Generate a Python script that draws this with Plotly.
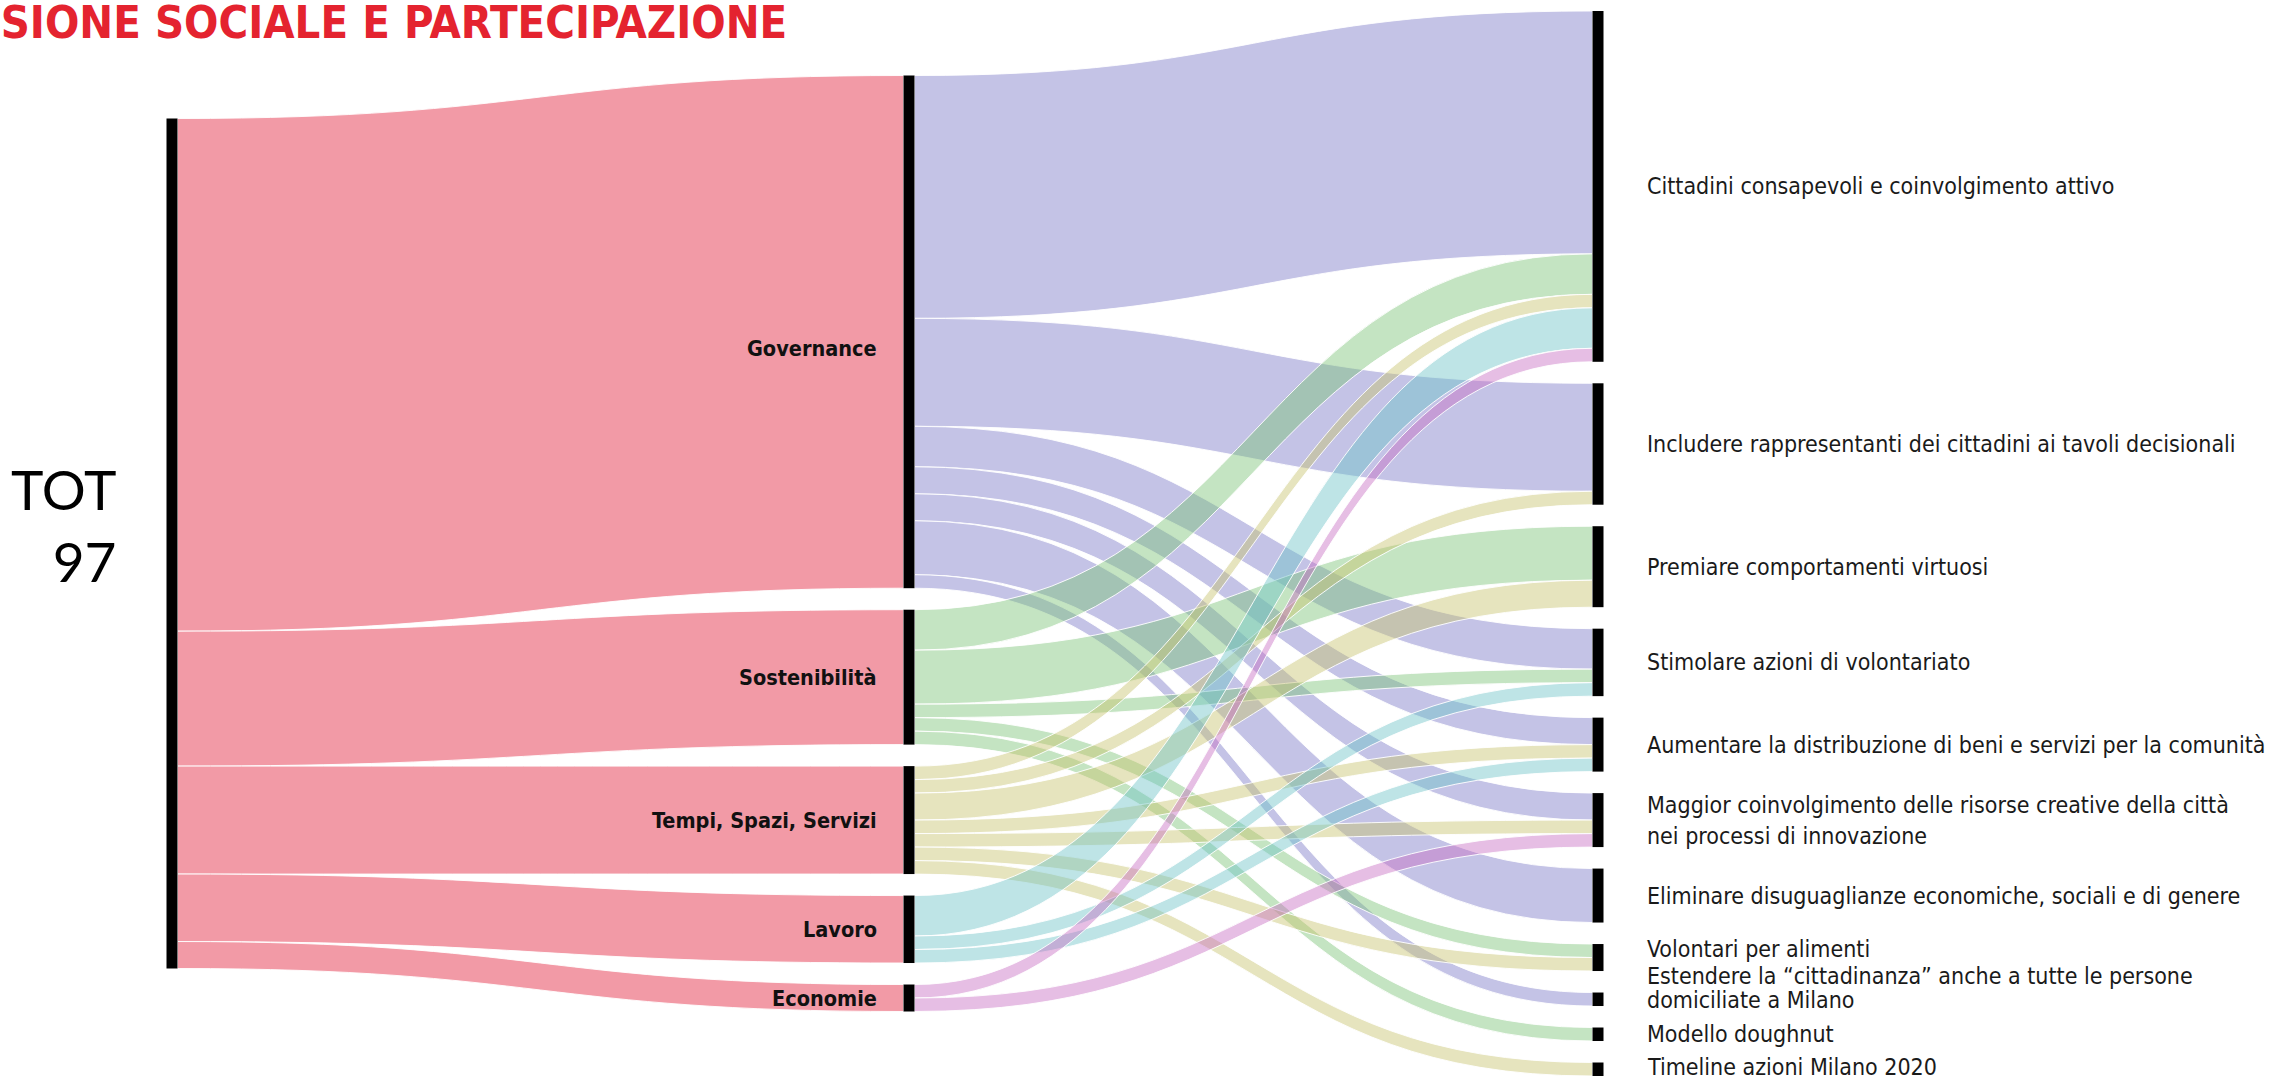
import plotly.graph_objects as go

# ---------------- data ----------------
title_text = "INCLUSIONE SOCIALE E PARTECIPAZIONE"
root_label = "TOT"
root_total_label = "97"

middle_labels = ["Governance", "Sostenibilità", "Tempi, Spazi, Servizi", "Lavoro", "Economie"]

target_labels = [
    "Cittadini consapevoli e coinvolgimento attivo",
    "Includere rappresentanti dei cittadini ai tavoli decisionali",
    "Premiare comportamenti virtuosi",
    "Stimolare azioni di volontariato",
    "Aumentare la distribuzione di beni e servizi per la comunità",
    "Maggior coinvolgimento delle risorse creative della città\nnei processi di innovazione",
    "Eliminare disuguaglianze economiche, sociali e di genere",
    "Volontari per alimenti",
    "Estendere la “cittadinanza” anche a tutte le persone\ndomiciliate a Milano",
    "Modello doughnut",
    "Timeline azioni Milano 2020",
]

# flows from each middle category to each target (same order as target_labels)
governance_flows    = [18, 8, 0, 3, 2, 2, 4, 0, 1, 0, 0]
sostenibilita_flows = [3, 0, 4, 1, 0, 0, 0, 1, 0, 1, 0]
tempi_flows         = [1, 1, 2, 0, 1, 1, 0, 1, 0, 0, 1]
lavoro_flows        = [3, 0, 0, 1, 1, 0, 0, 0, 0, 0, 0]
economie_flows      = [1, 0, 0, 0, 0, 1, 0, 0, 0, 0, 0]

flows = [governance_flows, sostenibilita_flows, tempi_flows, lavoro_flows, economie_flows]

# ---------------- styles ----------------
root_link_color = "rgba(226,31,57,0.45)"
middle_link_colors = [
    "rgba(124,122,199,0.45)",
    "rgba(124,195,119,0.45)",
    "rgba(199,195,111,0.45)",
    "rgba(111,195,199,0.45)",
    "rgba(199,111,195,0.45)",
]
W, HFIG = 2271, 1084
MT, MB, ML, MR = 11, 8, 0, 0
H = HFIG - MT - MB
PAD = 21.5
THICK = 11
col_x_px = [172, 909, 1598]
narrow = "DejaVu Sans Condensed, Liberation Sans Narrow, sans-serif"

middle_yshift = [-17, 0, 0, 0, 0]
target_yshift = [0, 0, 0, 0, 0, 0, 0, 9, 11, 0, 2]
target_line_gap = [31, 31, 31, 31, 31, 31, 31, 31, 24, 31, 31]

# ---------------- layout computation (mirrors plotly's sankey scaling) ----------------
mid_totals = [sum(f) for f in flows]
total = sum(mid_totals)
tgt_totals = [sum(f[j] for f in flows) for j in range(len(target_labels))]
columns = [[total], mid_totals, tgt_totals]
ky = min((H - (len(c) - 1) * PAD) / sum(c) for c in columns)


def centers(vals):
    tot_h = sum(vals) * ky + (len(vals) - 1) * PAD
    y = (H - tot_h) / 2
    out = []
    for v in vals:
        h = v * ky
        out.append(y + h / 2)
        y += h + PAD
    return out


root_c = centers([total])
mid_c = centers(mid_totals)
tgt_c = centers(tgt_totals)

node_names = [root_label] + middle_labels + [t.replace("\n", " ") for t in target_labels]
node_x = [col_x_px[0] / W] + [col_x_px[1] / W] * len(middle_labels) + [col_x_px[2] / W] * len(target_labels)
node_y = [c / H for c in root_c + mid_c + tgt_c]

src, tgt, val, col = [], [], [], []
for i, m in enumerate(mid_totals):
    src.append(0); tgt.append(1 + i); val.append(m); col.append(root_link_color)
off_t = 1 + len(middle_labels)
for i, f in enumerate(flows):
    for j, v in enumerate(f):
        if v > 0:
            src.append(1 + i); tgt.append(off_t + j); val.append(v); col.append(middle_link_colors[i])

fig = go.Figure(go.Sankey(
    arrangement="fixed",
    node=dict(
        label=[""] * len(node_names),
        customdata=node_names,
        hovertemplate="%{customdata}: %{value}<extra></extra>",
        x=node_x,
        y=node_y,
        pad=PAD,
        thickness=THICK,
        color="#000000",
        line=dict(width=0),
    ),
    link=dict(
        source=src, target=tgt, value=val, color=col,
        line=dict(color="rgba(255,255,255,0.9)", width=1),
    ),
))

ann = []
# title (partially cut at the left edge as in the original slide)
ann.append(dict(text="<b>" + title_text + "</b>", x=789 / W, xref="paper", xanchor="right",
                y=1 - (23 - MT) / H, yref="paper", yanchor="middle", showarrow=False,
                font=dict(family=narrow, size=45, color="#e4232f")))
# root label
ann.append(dict(text=root_label + "<br>" + root_total_label, x=118 / W, xref="paper", xanchor="right",
                y=1 - root_c[0] / H, yref="paper", yanchor="middle", yshift=19, align="right",
                showarrow=False, font=dict(family="Lato, Roboto, sans-serif", size=55, color="#000000")))
# middle labels
for i, lab in enumerate(middle_labels):
    ann.append(dict(text="<b>" + lab + "</b>", x=(col_x_px[1] - THICK / 2 - 25) / W, xref="paper",
                    xanchor="right", y=1 - mid_c[i] / H, yref="paper", yanchor="middle",
                    yshift=middle_yshift[i], showarrow=False,
                    font=dict(family=narrow, size=21.5, color="#111111")))
# target labels
for j, lab in enumerate(target_labels):
    lines = lab.split("\n")
    n = len(lines)
    for k, line in enumerate(lines):
        dy = (k - (n - 1) / 2) * target_line_gap[j]
        ann.append(dict(text=line, x=(col_x_px[2] + THICK / 2 + 41) / W, xref="paper",
                        xanchor="left", y=1 - tgt_c[j] / H, yref="paper", yanchor="middle",
                        yshift=target_yshift[j] - dy, showarrow=False,
                        font=dict(family=narrow, size=23, color="#1a1a1a")))

fig.update_layout(
    width=W, height=HFIG,
    margin=dict(l=ML, r=MR, t=MT, b=MB),
    paper_bgcolor="white",
    plot_bgcolor="white",
    annotations=ann,
)

fig.write_html("out.html", config={"displayModeBar": False},
               post_script="document.body.style.margin='0';")
